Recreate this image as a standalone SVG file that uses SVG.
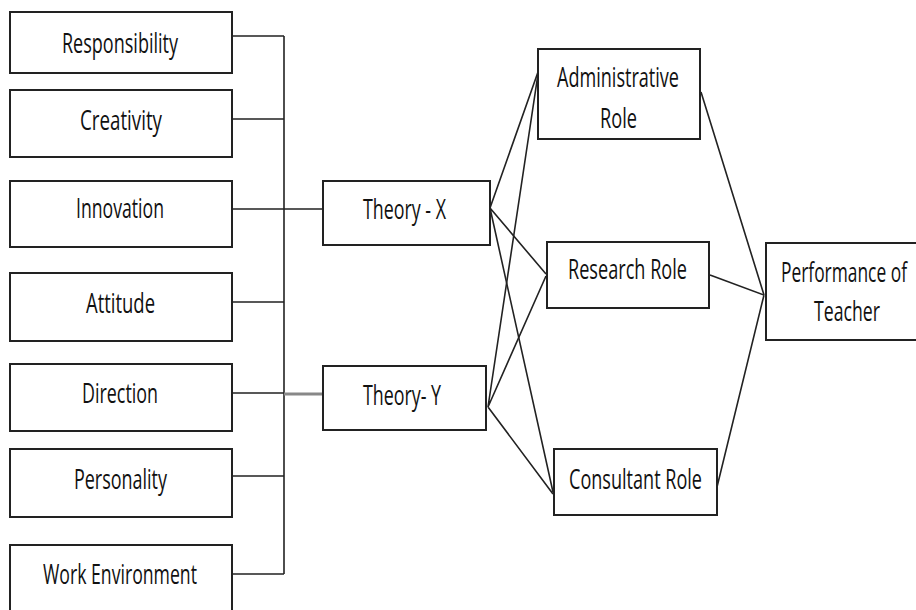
<svg xmlns="http://www.w3.org/2000/svg" width="916" height="610" viewBox="0 0 916 610">
  <style>
    .box { fill: #fff; stroke: #222; stroke-width: 2; }
    .lbl { font-family: "Open Sans", "Liberation Sans", sans-serif; font-size: 27px; fill: #111; }
    .wire { fill: none; stroke: #222; stroke-width: 1.6; }
  </style>
  <rect width="916" height="610" fill="#fff"/>

  <!-- connectors -->
  <g id="connectors">
    <!-- left bus -->
    <path class="wire" d="M232 36 H284 M232 119 H284 M232 209 H323 M232 302 H284 M232 393 H284 M232 476 H284 M232 574 H284 M284 36 V574"/>
    <path d="M284 394 H323" fill="none" stroke="#888" stroke-width="3"/>
    <!-- Theory X fan-out -->
    <path class="wire" d="M490 208 L538 72 M490 208 L546 274 M490 208 L553 492"/>
    <!-- Theory Y fan-out -->
    <path class="wire" d="M488 407 L538 74 M488 407 L546 276 M488 407 L553 494"/>
    <!-- roles to performance -->
    <path class="wire" d="M701 92 L764 295 M717 487 L764 295"/>
    <path class="wire" stroke-width="2.2" d="M710 275 L764 295"/>
  </g>

  <g id="responsibility">
    <rect class="box" x="10" y="12" width="222" height="61"/>
    <text class="lbl" x="62" y="53" textLength="116" lengthAdjust="spacingAndGlyphs">Responsibility</text>
  </g>
  <g id="creativity">
    <rect class="box" x="10" y="90" width="222" height="67"/>
    <text class="lbl" x="80" y="130" textLength="82" lengthAdjust="spacingAndGlyphs">Creativity</text>
  </g>
  <g id="innovation">
    <rect class="box" x="10" y="181" width="222" height="66"/>
    <text class="lbl" x="76" y="218" textLength="88" lengthAdjust="spacingAndGlyphs">Innovation</text>
  </g>
  <g id="attitude">
    <rect class="box" x="10" y="273" width="222" height="68"/>
    <text class="lbl" x="86" y="313" textLength="69" lengthAdjust="spacingAndGlyphs">Attitude</text>
  </g>
  <g id="direction">
    <rect class="box" x="10" y="364" width="222" height="67"/>
    <text class="lbl" x="82" y="403" textLength="76" lengthAdjust="spacingAndGlyphs">Direction</text>
  </g>
  <g id="personality">
    <rect class="box" x="10" y="449" width="222" height="68"/>
    <text class="lbl" x="74" y="489" textLength="93" lengthAdjust="spacingAndGlyphs">Personality</text>
  </g>
  <g id="work-environment">
    <rect class="box" x="10" y="545" width="222" height="70"/>
    <text class="lbl" x="43" y="584" textLength="154" lengthAdjust="spacingAndGlyphs">Work Environment</text>
  </g>

  <g id="theory-x">
    <rect class="box" x="323" y="181" width="167" height="64"/>
    <text class="lbl" x="363" y="219" textLength="83" lengthAdjust="spacingAndGlyphs">Theory - X</text>
  </g>
  <g id="theory-y">
    <rect class="box" x="323" y="366" width="163" height="64"/>
    <text class="lbl" x="363" y="405" textLength="78" lengthAdjust="spacingAndGlyphs">Theory- Y</text>
  </g>

  <g id="administrative-role">
    <rect class="box" x="538" y="49" width="162" height="90"/>
    <text class="lbl" x="557" y="87" textLength="122" lengthAdjust="spacingAndGlyphs">Administrative</text>
    <text class="lbl" x="600" y="128" textLength="37" lengthAdjust="spacingAndGlyphs">Role</text>
  </g>
  <g id="research-role">
    <rect class="box" x="547" y="242" width="162" height="66"/>
    <text class="lbl" x="568" y="279" textLength="119" lengthAdjust="spacingAndGlyphs">Research Role</text>
  </g>
  <g id="consultant-role">
    <rect class="box" x="554" y="449" width="163" height="66"/>
    <text class="lbl" x="569" y="489" textLength="133" lengthAdjust="spacingAndGlyphs">Consultant Role</text>
  </g>

  <g id="performance-of-teacher">
    <rect class="box" x="766" y="243" width="154" height="97"/>
    <text class="lbl" x="781" y="282" textLength="126" lengthAdjust="spacingAndGlyphs">Performance of</text>
    <text class="lbl" x="814" y="321" textLength="66" lengthAdjust="spacingAndGlyphs">Teacher</text>
  </g>
</svg>
